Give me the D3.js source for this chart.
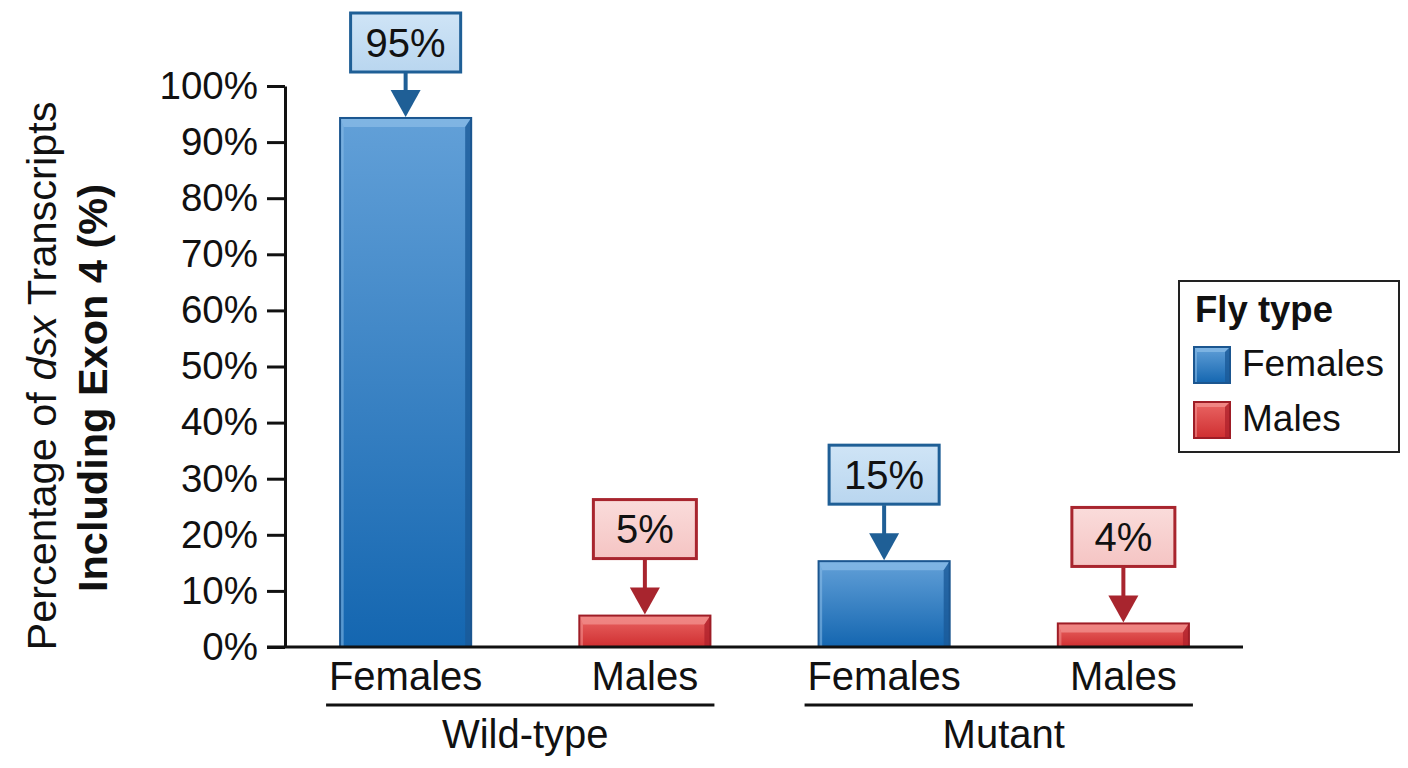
<!DOCTYPE html>
<html>
<head>
<meta charset="utf-8">
<script src="https://cdn.jsdelivr.net/npm/d3@7"></script>
<style>
  html, body { margin: 0; padding: 0; background: #ffffff; }
  svg { display: block; font-family: "Liberation Sans", Arial, Helvetica, sans-serif; }
</style>
</head>
<body>
<svg id="chart" width="1408" height="768"></svg>
<script>
// ---- data ----
const barIds = ["WT-F", "WT-M", "MU-F", "MU-M"];
const barCategories = ["Females", "Males", "Females", "Males"];
const barSex = ["Females", "Males", "Females", "Males"];
const barGroups = ["Wild-type", "Wild-type", "Mutant", "Mutant"];
const groupNames = ["Wild-type", "Mutant"];
const barValues = [94.3, 5.6, 15.3, 4.2];
const valueLabels = ["95%", "5%", "15%", "4%"];
const yTicks = [0, 10, 20, 30, 40, 50, 60, 70, 80, 90, 100];
const legendTitle = "Fly type";
const legendItems = ["Females", "Males"];

// ---- styles ----
const palette = {
  Females: { top: "#62a0d8", bottom: "#1466b0", stroke: "#1b5690", light: "#8cbde8", dark: "#1a5a98",
             boxFill: "#cfe4f6", boxFill2: "#b9d6ef", boxStroke: "#1f5f96", arrow: "#1f5f96" },
  Males:   { top: "#ea6664", bottom: "#cf2f31", stroke: "#9e1d26", light: "#f39593", dark: "#b0222c",
             boxFill: "#fadcdb", boxFill2: "#f5c4c3", boxStroke: "#a8252e", arrow: "#a8252e" }
};

const svg = d3.select("#chart");
const defs = svg.append("defs");
Object.keys(palette).forEach(k => {
  const p = palette[k];
  const g = defs.append("linearGradient").attr("id", "grad-" + k).attr("x1", 0).attr("y1", 0).attr("x2", 0).attr("y2", 1);
  g.append("stop").attr("offset", "0%").attr("stop-color", p.top);
  g.append("stop").attr("offset", "100%").attr("stop-color", p.bottom);
  const gb = defs.append("linearGradient").attr("id", "box-" + k).attr("x1", 0).attr("y1", 0).attr("x2", 0).attr("y2", 1);
  gb.append("stop").attr("offset", "0%").attr("stop-color", p.boxFill);
  gb.append("stop").attr("offset", "100%").attr("stop-color", p.boxFill2);
});

const margin = { left: 285, right: 1243, top: 86, bottom: 647 };

const x = d3.scaleBand().domain(barIds).range([margin.left + 1, margin.right]).paddingInner(0.452).paddingOuter(0.226);
const y = d3.scaleLinear().domain([0, 100]).range([margin.bottom, margin.top]);

// bevelled block
function bevelBlock(g, bx, by, bw, bh, p, key, bTop, bSide) {
  g.append("rect").attr("x", bx).attr("y", by).attr("width", bw).attr("height", bh)
    .attr("fill", "url(#grad-" + key + ")");
  const bt = Math.min(bTop, bh / 2);
  g.append("polygon").attr("points", [[bx, by], [bx + bw, by], [bx + bw - bSide, by + bt], [bx + bSide * 0.6, by + bt]].map(d => d.join(",")).join(" "))
    .attr("fill", p.light).attr("opacity", 0.7);
  g.append("polygon").attr("points", [[bx + bw, by], [bx + bw, by + bh], [bx + bw - bSide, by + bh], [bx + bw - bSide, by + bt]].map(d => d.join(",")).join(" "))
    .attr("fill", p.dark).attr("opacity", 0.8);
  g.append("polygon").attr("points", [[bx, by], [bx + bSide * 0.6, by + bt], [bx + bSide * 0.6, by + bh], [bx, by + bh]].map(d => d.join(",")).join(" "))
    .attr("fill", p.light).attr("opacity", 0.55);
  g.append("rect").attr("x", bx).attr("y", by).attr("width", bw).attr("height", bh)
    .attr("fill", "none").attr("stroke", p.stroke).attr("stroke-width", 2);
}

// ---- bars ----
const barsG = svg.append("g");
barIds.forEach((id, i) => {
  const key = barSex[i];
  const p = palette[key];
  const bx = x(id), bw = x.bandwidth();
  const by = y(barValues[i]), bh = y(0) - y(barValues[i]);
  bevelBlock(barsG, bx, by, bw, bh, p, key, 9, 6);
});

// ---- axes ----
const yAxis = d3.axisLeft(y).tickValues(yTicks).tickFormat(d => d + "%").tickSize(18).tickSizeOuter(0).tickPadding(9);
const yg = svg.append("g").attr("transform", `translate(${margin.left},0)`).call(yAxis);
yg.select(".domain").attr("stroke", "#111").attr("stroke-width", 3);
yg.selectAll(".tick line").attr("stroke", "#111").attr("stroke-width", 3);
yg.selectAll(".tick text").attr("font-size", 38.5).attr("fill", "#111").attr("font-family", "Liberation Sans, Arial, sans-serif");

// baseline
svg.append("line").attr("x1", margin.left - 18).attr("x2", margin.right).attr("y1", y(0)).attr("y2", y(0))
  .attr("stroke", "#111").attr("stroke-width", 3);

// category labels
svg.append("g").selectAll("text").data(barIds).join("text")
  .attr("x", d => x(d) + x.bandwidth() / 2).attr("y", 690)
  .attr("text-anchor", "middle").attr("font-size", 40).attr("fill", "#111")
  .text((d, i) => barCategories[i]);

// group underlines and labels
groupNames.forEach(gname => {
  const ids = barIds.filter((d, i) => barGroups[i] === gname);
  const x0 = x(ids[0]) - 14, x1 = x(ids[ids.length - 1]) + x.bandwidth() + 4;
  svg.append("line").attr("x1", x0).attr("x2", x1).attr("y1", 705).attr("y2", 705)
    .attr("stroke", "#111").attr("stroke-width", 3);
  const cx = (x(ids[0]) + x(ids[ids.length - 1]) + x.bandwidth()) / 2;
  svg.append("text").attr("x", cx).attr("y", 748).attr("text-anchor", "middle")
    .attr("font-size", 40).attr("fill", "#111").text(gname);
});

// ---- value callouts ----
const calloutG = svg.append("g");
barIds.forEach((id, i) => {
  const key = barSex[i];
  const p = palette[key];
  const cx = x(id) + x.bandwidth() / 2;
  const barTop = y(barValues[i]);
  const boxH = 59;
  const boxTop = Math.max(13, barTop - 57 - boxH);
  const boxBottom = boxTop + boxH;
  const g = calloutG.append("g");
  const rect = g.append("rect");
  const t = g.append("text").attr("x", cx).attr("y", boxTop + boxH / 2 + 14)
    .attr("text-anchor", "middle").attr("font-size", 40).attr("fill", "#111").text(valueLabels[i]);
  const tw = t.node().getComputedTextLength();
  const boxW = Math.max(103, tw + 30);
  rect.attr("x", cx - boxW / 2).attr("y", boxTop).attr("width", boxW).attr("height", boxH)
    .attr("fill", "url(#box-" + key + ")").attr("stroke", p.boxStroke).attr("stroke-width", 3);
  const headH = 28, headW = 30;
  g.append("line").attr("x1", cx).attr("x2", cx).attr("y1", boxBottom + 1).attr("y2", barTop - headH + 2)
    .attr("stroke", p.arrow).attr("stroke-width", 4);
  g.append("polygon").attr("points", [[cx - headW / 2, barTop - headH], [cx + headW / 2, barTop - headH], [cx, barTop - 1]].map(d => d.join(",")).join(" "))
    .attr("fill", p.arrow);
});

// ---- y axis title ----
const tg = svg.append("g");
const t1 = tg.append("text").attr("transform", "translate(56,376) rotate(-90)").attr("text-anchor", "middle")
  .attr("font-size", 41.5).attr("fill", "#111");
t1.append("tspan").text("Percentage of ");
t1.append("tspan").attr("font-style", "italic").text("dsx");
t1.append("tspan").text(" Transcripts");
tg.append("text").attr("transform", "translate(107,388) rotate(-90)").attr("text-anchor", "middle")
  .attr("font-size", 41.5).attr("font-weight", "bold").attr("fill", "#111").text("Including Exon 4 (%)");

// ---- legend ----
const lg = svg.append("g");
lg.append("rect").attr("x", 1179).attr("y", 281).attr("width", 220).attr("height", 171)
  .attr("fill", "#fff").attr("stroke", "#222").attr("stroke-width", 2);
lg.append("text").attr("x", 1195).attr("y", 322).attr("font-size", 36.5).attr("font-weight", "bold")
  .attr("fill", "#111").text(legendTitle);
legendItems.forEach((k, i) => {
  const sy = 347 + i * 55;
  bevelBlock(lg, 1194, sy, 36, 36, palette[k], k, 5, 5);
  lg.append("text").attr("x", 1242).attr("y", sy + 29).attr("font-size", 37).attr("fill", "#111").text(k);
});
</script>
</body>
</html>
